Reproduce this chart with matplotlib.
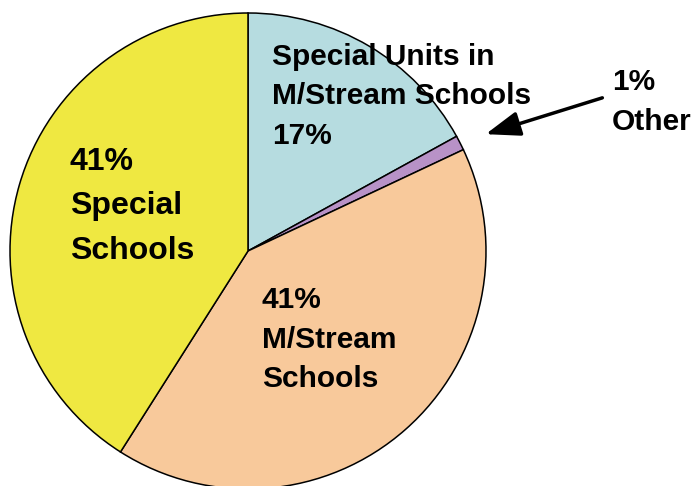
import matplotlib
matplotlib.use("Agg")
import matplotlib.pyplot as plt

plt.rcParams['font.family'] = ['Liberation Sans', 'DejaVu Sans']

categories = ['Special Units in\nM/Stream Schools\n17%', '1%\nOther',
              '41%\nM/Stream\nSchools', '41%\nSpecial\nSchools']
shares = [17, 1, 41, 41]
colours = ['#b6dce0', '#b892c7', '#f8c99b', '#efe841']

# pie centre / radius in pixels of the 695x486 picture
CX, CY, R = 248, 251, 238

def px(x, y):
    return (x - CX) / R, (CY - y) / R

fig = plt.figure(figsize=(6.95, 4.86), dpi=100)
ax = fig.add_axes([0, 0, 1, 1])
ax.pie(shares, colors=colours, startangle=90, counterclock=False,
       radius=1, wedgeprops=dict(edgecolor='black', linewidth=1.1))
ax.set_xlim(-CX / R, (695 - CX) / R)
ax.set_ylim((CY - 486) / R, CY / R)
ax.set_aspect('equal')
ax.axis('off')

# label positions (top-left corner, pixels), font size, line spacing
spots = [(272, 43, 21.5, 1.52), (612, 68, 21.5, 1.55),
         (262, 286, 21.5, 1.53), (70, 147, 23, 1.62)]
for lab, (x, y, fs, ls) in zip(categories, spots):
    ax.text(*px(x, y), lab, ha='left', va='top', fontsize=fs,
            fontweight='bold', linespacing=ls, zorder=5)

ax.annotate('', xy=px(483, 135), xytext=px(605, 97),
            arrowprops=dict(arrowstyle='-|>,head_length=0.75,head_width=0.27',
                            color='black', lw=2.5, mutation_scale=28), zorder=5)

fig.savefig('out.png', dpi=100)
